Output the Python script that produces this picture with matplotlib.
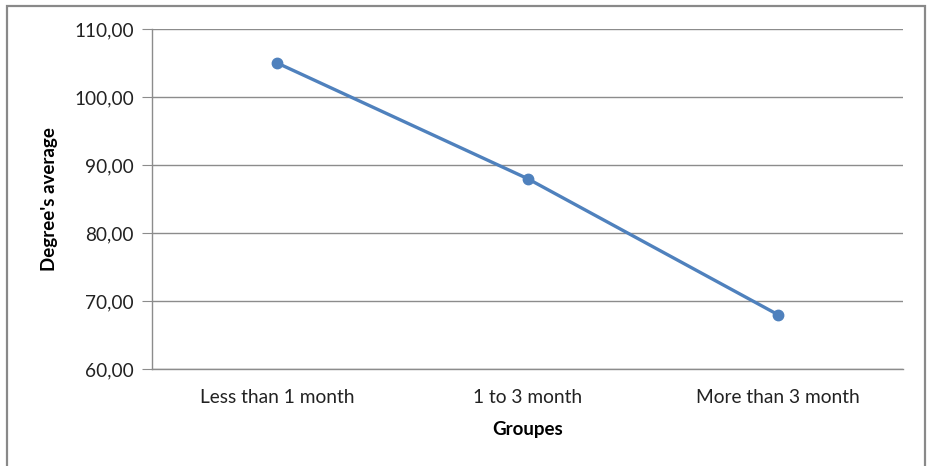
import matplotlib.pyplot as plt
from matplotlib.patches import Rectangle
from matplotlib.ticker import FuncFormatter

groups = ['Less than 1 month', '1 to 3 month', 'More than 3 month']
averages = [105.0, 88.0, 68.0]

plt.rcParams['font.family'] = ['Lato', 'DejaVu Sans']

fig = plt.figure(figsize=(9.31, 4.66), dpi=100)
ax = fig.add_axes([152/931, 1 - 369/466, (903 - 152)/931, (369 - 29)/466])

# chart frame round the whole figure
fig.patches.append(Rectangle((7/931, -0.01), (925 - 7)/931, (460 + 5)/466,
                             transform=fig.transFigure, fill=False,
                             edgecolor='#898989', linewidth=1.6))

ax.plot(range(len(groups)), averages, color='#4F81BD', linewidth=2.4,
        marker='o', markersize=7.5, zorder=3)

ax.set_xlim(-0.5, 2.5)
ax.set_ylim(60, 110)
ax.set_yticks(range(60, 111, 10))
ax.yaxis.set_major_formatter(FuncFormatter(lambda v, p: f'{v:.2f}'.replace('.', ',')))
ax.set_xticks(range(len(groups)))
ax.set_xticklabels(groups)

ax.grid(axis='y', color='#8c8c8c', linewidth=1)
ax.set_axisbelow(True)
for s in ['top', 'right']:
    ax.spines[s].set_visible(False)
for s in ['left', 'bottom']:
    ax.spines[s].set_color('#8c8c8c')
    ax.spines[s].set_linewidth(1)

ax.tick_params(axis='y', length=7, color='#8c8c8c', labelsize=13.7, pad=6, labelcolor='#222222')
ax.tick_params(axis='x', length=0, labelsize=13.8, pad=14.5, labelcolor='#222222')

ax.set_xlabel('Groupes', fontsize=13.5, fontweight='bold', labelpad=11)
ax.set_ylabel("Degree's average", fontsize=13.5, fontweight='bold', labelpad=12)

fig.savefig('out.png', dpi=100)
